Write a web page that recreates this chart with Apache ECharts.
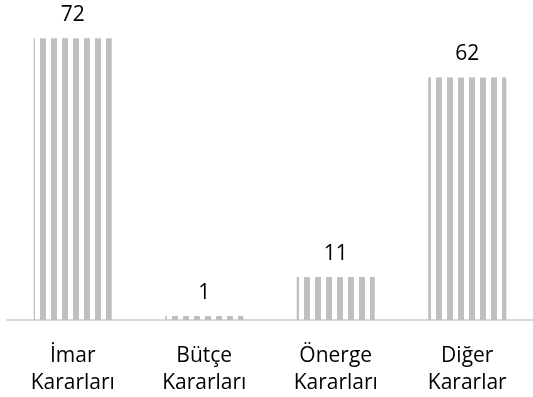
<!DOCTYPE html>
<html>
<head>
<meta charset="utf-8">
<script src="https://cdn.jsdelivr.net/npm/echarts@6/dist/echarts.min.js"></script>
<style>
  html, body { margin: 0; padding: 0; background: #ffffff; }
  #chart { width: 533px; height: 397px; }
</style>
</head>
<body>
<div id="chart"></div>
<script>
const categories = ['İmar\nKararları', 'Bütçe\nKararları', 'Önerge\nKararları', 'Diğer\nKararlar'];
const values = [72, 1, 11, 62];

// vertical stripe pattern, period 11 px, aligned to page
const pat = document.createElement('canvas');
pat.width = 11; pat.height = 4;
const pctx = pat.getContext('2d');
pctx.fillStyle = '#bfbfbf';
// gray columns 7..12 (wrapping) -> stripes start at x = 40, 51, 62 ...
pctx.fillRect(7, 0, 4, 4);
pctx.fillRect(0, 0, 2, 4);

const chart = echarts.init(document.getElementById('chart'), null, { renderer: 'canvas' });
chart.setOption({
  animation: false,
  backgroundColor: '#ffffff',
  grid: { left: 7, top: 7, width: 528, bottom: 76, containLabel: false },
  xAxis: {
    type: 'category',
    data: categories,
    axisTick: { show: false },
    axisLine: { lineStyle: { color: '#d9d9d9', width: 2 } },
    axisLabel: {
      color: '#000000',
      fontFamily: 'Open Sans',
      fontSize: 21,
      lineHeight: 27,
      margin: 23,
      interval: 0
    }
  },
  yAxis: { type: 'value', min: 0, max: 80, show: false, splitLine: { show: false } },
  series: [{
    type: 'bar',
    data: values,
    barWidth: 78,
    itemStyle: { color: { image: pat, repeat: 'repeat' } },
    label: {
      show: true,
      position: 'top',
      distance: 13,
      color: '#000000',
      fontFamily: 'Open Sans',
      fontSize: 21,
      lineHeight: 20
    }
  }]
});
</script>
</body>
</html>
